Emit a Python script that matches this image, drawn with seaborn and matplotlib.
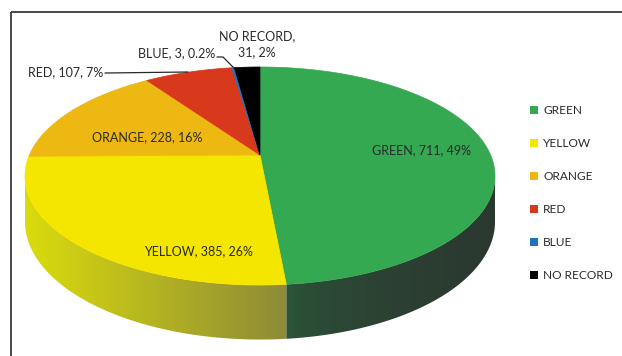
import numpy as np
import matplotlib
matplotlib.use("Agg")
import matplotlib.pyplot as plt
from matplotlib.patches import Polygon, Patch
from matplotlib.colors import to_rgb
import seaborn as sns

# ---- data ----
categories = ["GREEN", "YELLOW", "ORANGE", "RED", "BLUE", "NO RECORD"]
counts = [711, 385, 228, 107, 3, 31]
top_colors = ["#35a852", "#f5e600", "#edb812", "#d8381c", "#1e73be", "#000000"]
side_colors = {"GREEN": ("#2b5a3a", "#2c3830", 0.45), "YELLOW": ("#dadc0c", "#8e8a38", 1.0)}

sns.set_theme(style="white")
plt.rcParams['font.family'] = ['Lato', 'DejaVu Sans']
palette = sns.color_palette(top_colors)

counts_arr = np.array(counts, dtype=float)
frac = counts_arr / counts_arr.sum()
pct = frac * 100
pct_txt = [f"{p:.1f}%" if p < 1 else f"{p:.0f}%" for p in pct]
labels = [f"{c}, {n}, {p}" for c, n, p in zip(categories, counts, pct_txt)]

# ---- projection of a tilted disc ----
cx, e, d, a, c, D = 260.0, 155.0, 75.1, 230.6, 0.1927, 44.0

def proj(phi_deg, depth=0.0):
    phi = np.radians(phi_deg)
    u, v = np.sin(phi), np.cos(phi)
    den = 1 + c * v
    return cx + a * u / den, (e - d * v) / den + depth / den

fig = plt.figure(figsize=(6.22, 3.56), dpi=100)
ax = fig.add_axes([0, 0, 1, 1])
ax.axis("off")

# border
ax.plot([11, 11], [356, 12], color="#3a3a3a", lw=1.3, solid_capstyle="butt")
ax.plot([11, 622], [12, 12], color="#3a3a3a", lw=1.3, solid_capstyle="butt")

bounds = np.concatenate([[0], np.cumsum(frac) * 360])
phiR = np.degrees(np.arccos(-c))
phiL = 360 - phiR

# side walls with horizontal gradient
for i, cat in enumerate(categories):
    s, t = max(bounds[i], phiR), min(bounds[i + 1], phiL)
    if t <= s or cat not in side_colors:
        continue
    ph = np.linspace(s, t, 200)
    xt, yt = proj(ph)
    xb, yb = proj(ph[::-1], D)
    pts = list(zip(xt, yt)) + list(zip(xb, yb))
    poly = Polygon(pts, closed=True, facecolor="none", edgecolor="none")
    ax.add_patch(poly)
    x0, x1 = min(xt.min(), xb.min()), max(xt.max(), xb.max())
    c_left, c_right, gam = side_colors[cat]
    c_left, c_right = np.array(to_rgb(c_left)), np.array(to_rgb(c_right))
    tt = np.linspace(0, 1, 256) ** gam
    grad = c_left[None, :] * (1 - tt[:, None]) + c_right[None, :] * tt[:, None]
    img = np.repeat(grad[None, :, :], 4, axis=0)
    y0, y1 = min(yt.min(), yb.min()), max(yt.max(), yb.max())
    im = ax.imshow(img, extent=(x0 - 1, x1 + 1, y1 + 1, y0 - 1), origin="upper",
                   aspect="auto", interpolation="bilinear", zorder=2)
    im.set_clip_path(poly)

# top face
for i in range(len(categories)):
    ph = np.linspace(bounds[i], bounds[i + 1], max(int((bounds[i + 1] - bounds[i]) * 2), 2) + 1)
    xs, ys = proj(ph)
    pts = [(cx, e)] + list(zip(xs, ys))
    ax.add_patch(Polygon(pts, closed=True, facecolor=palette[i],
                         edgecolor=palette[i], lw=0.5, zorder=3))

ax.set_xlim(0, 622)
ax.set_ylim(356, 0)

# data labels
tc = "#2a2a2a"
fs = 9.0
ax.text(422, 150, labels[0], ha="center", va="center", fontsize=fs, color=tc, zorder=5)
ax.text(198, 251, labels[1], ha="center", va="center", fontsize=fs, color=tc, zorder=5)
ax.text(147, 137, labels[2], ha="center", va="center", fontsize=fs, color=tc, zorder=5)
ax.text(103, 72, labels[3], ha="right", va="center", fontsize=fs, color=tc, zorder=5)
ax.text(215, 53, labels[4], ha="right", va="center", fontsize=fs, color=tc, zorder=5)
ax.text(257, 44, f"{categories[5]},\n{counts[5]}, {pct_txt[5]}", ha="center", va="center",
        fontsize=fs, color=tc, linespacing=1.4, zorder=5)

# leader lines
ax.plot([105, 188], [73, 72], color="#2a2a2a", lw=0.9, zorder=6)
ax.plot([217, 223, 234], [57, 57, 68], color="#2a2a2a", lw=0.9, zorder=6)

# legend
lfs = 8.6
handles = [Patch(facecolor=palette[i], edgecolor="none") for i in range(len(categories))]
leg = ax.legend(handles, categories, loc="upper left", bbox_to_anchor=(530 / 622, 1 - 105 / 356),
                frameon=False, fontsize=lfs, handlelength=0.65, handleheight=0.65,
                handletextpad=0.45, labelspacing=1.84, borderpad=0, borderaxespad=0)
for t in leg.get_texts():
    t.set_color(tc)

fig.savefig("out.png", dpi=100)
